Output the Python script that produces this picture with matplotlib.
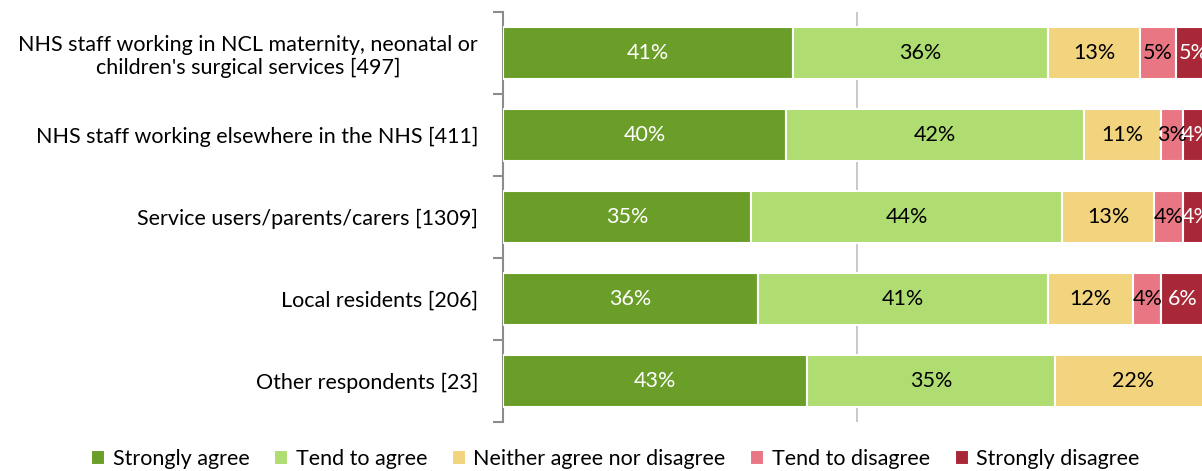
import numpy as np
import matplotlib.pyplot as plt
from matplotlib.ticker import FixedLocator, NullFormatter

plt.rcParams['font.family'] = ['Lato', 'DejaVu Sans']

groups = ["NHS staff working in NCL maternity, neonatal or\nchildren's surgical services [497]",
          "NHS staff working elsewhere in the NHS [411]",
          "Service users/parents/carers [1309]",
          "Local residents [206]",
          "Other respondents [23]"]
responses = ["Strongly agree", "Tend to agree", "Neither agree nor disagree",
             "Tend to disagree", "Strongly disagree"]
strongly_agree = [41, 40, 35, 36, 43]
tend_agree = [36, 42, 44, 41, 35]
neither = [13, 11, 13, 12, 22]
tend_disagree = [5, 3, 4, 4, 0]
strongly_disagree = [5, 4, 4, 6, 0]

series = [strongly_agree, tend_agree, neither, tend_disagree, strongly_disagree]
colors = ['#6a9e28', '#afdd72', '#f2d37e', '#e97783', '#a82838']
text_colors = ['white', 'black', 'black', 'black', 'white']

fig = plt.figure(figsize=(12.02, 4.71), dpi=100)
ax = fig.add_axes([503 / 1202, 49 / 471, 708 / 1202, 410 / 471])

y = np.arange(len(groups))
left = np.zeros(len(groups))
for vals, name, c, tc in zip(series, responses, colors, text_colors):
    vals = np.array(vals, dtype=float)
    bars = ax.barh(y, vals, left=left, height=0.64, color=c, edgecolor='white',
                   linewidth=1.5, label=name, zorder=3)
    for b, v in zip(bars, vals):
        if v > 0:
            ax.text(b.get_x() + b.get_width() / 2, b.get_y() + b.get_height() / 2,
                    f"{v:.0f}%", ha='center', va='center', color=tc,
                    fontsize=15.5, zorder=4)
    left += vals

ax.set_xlim(0, 100)
ax.set_ylim(len(groups) - 0.5, -0.5)
ax.xaxis.set_visible(False)
ax.axvline(50, color='#bfbfbf', linewidth=1.2, zorder=1)

for s in ['top', 'right', 'bottom']:
    ax.spines[s].set_visible(False)
ax.spines['left'].set_color('#8c8c8c')
ax.spines['left'].set_linewidth(1.5)

ax.yaxis.set_major_locator(FixedLocator(np.arange(-0.5, len(groups), 1)))
ax.yaxis.set_major_formatter(NullFormatter())
ax.yaxis.set_minor_locator(FixedLocator(y))
ax.set_yticklabels(groups, minor=True, fontsize=15.5)
ax.tick_params(axis='y', which='major', length=7, width=1.5, color='#8c8c8c')
ax.tick_params(axis='y', which='minor', length=0, pad=18)
for lbl in ax.get_yticklabels(minor=True):
    lbl.set_horizontalalignment('right')
    lbl.set_multialignment('center')

fig.legend(loc='center', bbox_to_anchor=(0.512, 12 / 471), ncol=5, frameon=False,
           fontsize=15.5, handlelength=0.65, handleheight=0.65, handletextpad=0.35,
           columnspacing=1.15)

fig.savefig('out.png', dpi=100)
